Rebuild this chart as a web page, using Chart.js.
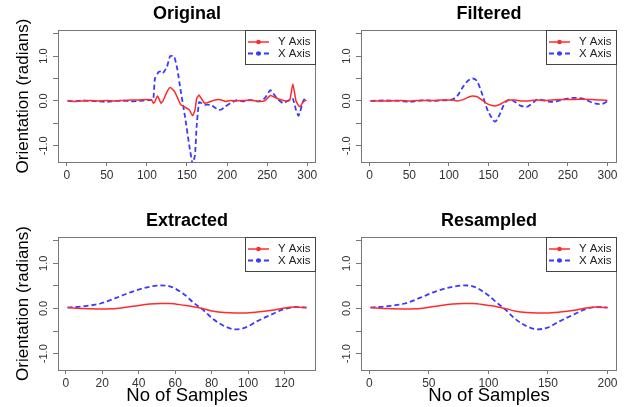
<!DOCTYPE html>
<html>
<head>
<meta charset="utf-8">
<script src="https://cdn.jsdelivr.net/npm/chart.js@4.4.0/dist/chart.umd.min.js"></script>
<style>
  body { margin: 0; background: #fff; }
  #wrap { position: relative; width: 624px; height: 407px; }
  canvas { position: absolute; }
</style>
</head>
<body>
<div id="wrap">
  <canvas id="original" width="320" height="200" style="left:0;top:0"></canvas>
  <canvas id="filtered" width="304" height="200" style="left:320px;top:0"></canvas>
  <canvas id="extracted" width="320" height="207" style="left:0;top:200px"></canvas>
  <canvas id="resampled" width="304" height="207" style="left:320px;top:200px"></canvas>
</div>
<script>
// Original
const origSamples = [1, 10, 20, 30, 40, 50, 60, 70, 80, 90, 100, 106, 108, 110, 113, 115, 117.5, 120, 125, 129, 134, 138, 142, 147.5, 153, 157, 160, 162, 165, 168, 172, 175, 181, 185, 189, 193, 198, 204, 212, 220, 229, 239, 247, 254, 262, 270, 278, 282, 286, 289, 291, 295, 299];
const origYAxis = [0.01, -0.01, 0.0, 0.01, 0.0, 0.01, 0.0, 0.01, 0.02, 0.02, 0.03, 0.02, -0.05, -0.02, 0.11, 0.05, -0.05, 0.0, 0.2, 0.3, 0.22, 0.08, -0.08, -0.14, -0.2, -0.33, -0.2, 0.05, 0.13, 0.05, -0.05, -0.04, 0.0, 0.02, 0.03, 0.02, -0.01, 0.01, 0.0, 0.01, 0.02, -0.01, 0.0, 0.12, 0.06, 0.01, 0.01, 0.38, 0.0, -0.1, -0.13, -0.02, 0.02];
const origXAxis = [0.0, -0.01, 0.01, 0.0, -0.01, -0.02, 0.0, 0.01, -0.01, 0.0, 0.02, 0.02, 0.03, 0.5, 0.6, 0.65, 0.66, 0.62, 0.76, 1.0, 0.99, 0.7, 0.24, -0.35, -1.01, -1.4, -1.2, -0.57, -0.03, -0.05, -0.09, -0.08, -0.1, -0.15, -0.2, -0.19, -0.12, -0.05, 0.02, -0.01, 0.02, -0.01, 0.06, 0.24, 0.06, -0.05, 0.03, 0.05, -0.2, -0.33, -0.25, 0.0, 0.1];

// Filtered
const filtSamples = [1, 20, 40, 50, 60, 70, 80, 90, 100, 105, 110, 118, 124, 130, 135, 141, 148, 154, 158, 164, 170, 177, 183, 191, 198, 204, 212, 221, 229, 244, 256, 269, 281, 292, 300];
const filtYAxis = [0.0, 0.0, 0.01, 0.0, 0.01, 0.01, 0.01, 0.02, 0.02, 0.02, 0.0, 0.03, 0.08, 0.11, 0.1, 0.03, -0.06, -0.1, -0.11, -0.08, -0.02, 0.02, 0.02, 0.0, 0.0, 0.01, 0.02, 0.01, 0.02, 0.03, 0.03, 0.04, 0.03, 0.02, 0.01];
const filtXAxis = [0.0, 0.01, 0.0, -0.02, 0.0, 0.02, 0.0, 0.01, 0.02, 0.04, 0.1, 0.32, 0.45, 0.5, 0.45, 0.2, -0.17, -0.38, -0.46, -0.3, -0.06, 0.03, -0.02, -0.11, -0.13, -0.07, 0.03, 0.01, -0.02, 0.03, 0.07, 0.05, -0.04, -0.07, -0.01];

// Extracted
const extSamples = [1, 10, 19, 28, 37, 46, 52, 57, 65, 70, 75, 81, 87, 93, 98, 105, 113, 120, 126, 132];
const extYAxis = [0.02, 0.0, -0.01, 0.0, 0.05, 0.1, 0.11, 0.11, 0.07, 0.04, 0.0, -0.06, -0.09, -0.1, -0.1, -0.08, -0.04, 0.01, 0.03, 0.02];
const extXAxis = [0.02, 0.05, 0.11, 0.24, 0.38, 0.48, 0.51, 0.49, 0.31, 0.13, -0.02, -0.24, -0.39, -0.46, -0.43, -0.28, -0.13, -0.01, 0.03, 0.02];

// Resampled
const resSamples = [1, 15, 30, 43, 56, 70, 79, 87, 99, 107, 114, 123, 132, 141, 149, 160, 172, 182, 191, 200];
const resYAxis = [0.02, 0.0, -0.01, 0.0, 0.05, 0.1, 0.11, 0.11, 0.07, 0.04, 0.0, -0.06, -0.09, -0.1, -0.1, -0.08, -0.04, 0.01, 0.03, 0.02];
const resXAxis = [0.02, 0.05, 0.11, 0.24, 0.38, 0.48, 0.51, 0.49, 0.31, 0.13, -0.02, -0.24, -0.39, -0.46, -0.43, -0.28, -0.13, -0.01, 0.03, 0.02];

// ticks
const yTicks = [-1.0, -0.5, 0.0, 0.5, 1.0, 1.5];
const yLabelled = [-1.0, 0.0, 1.0];
const sampleTicks300 = [0, 50, 100, 150, 200, 250, 300];
const sampleTicks120 = [0, 20, 40, 60, 80, 100, 120];
const sampleTicks200 = [0, 50, 100, 150, 200];

const seriesNames = ["Y Axis", "X Axis"];
const seriesColors = ["#ff2b2b", "#3a3aff"];

Chart.defaults.font.family = "'Liberation Sans', Arial, sans-serif";
Chart.defaults.color = "#333";

// R style box round the plot area
const plotBox = {
  id: "plotBox",
  afterDatasetsDraw(chart) {
    const { ctx, chartArea: a } = chart;
    ctx.save();
    ctx.strokeStyle = "#777";
    ctx.lineWidth = 1;
    ctx.strokeRect(Math.round(a.left) + 0.5, Math.round(a.top) + 0.5, Math.round(a.width) - 1, Math.round(a.height));
    ctx.restore();
  }
};

// legend in top right corner, line + dot like R's legend(lty, pch)
const boxLegend = {
  id: "boxLegend",
  afterDraw(chart) {
    const { ctx, chartArea: a } = chart;
    const w = 71, h = 35;
    const left = Math.round(a.right) - w, top = Math.round(a.top);
    ctx.save();
    ctx.fillStyle = "#fff";
    ctx.fillRect(left, top, w, h);
    ctx.strokeStyle = "#444";
    ctx.lineWidth = 1;
    ctx.strokeRect(left + 0.5, top + 0.5, w - 1, h - 1);
    chart.data.datasets.forEach((ds, i) => {
      const y = top + 12 + i * 11.5;
      ctx.strokeStyle = ds.borderColor;
      ctx.lineWidth = ds.borderWidth;
      ctx.setLineDash(ds.borderDash || []);
      ctx.beginPath();
      ctx.moveTo(left + 3, y);
      ctx.lineTo(left + 24, y);
      ctx.stroke();
      ctx.setLineDash([]);
      ctx.fillStyle = ds.borderColor;
      ctx.beginPath();
      ctx.arc(left + 13.5, y, 2.3, 0, Math.PI * 2);
      ctx.fill();
      ctx.fillStyle = "#222";
      ctx.font = "11.5px 'Liberation Sans', Arial, sans-serif";
      ctx.textBaseline = "middle";
      ctx.fillText(ds.label, left + 33, y);
    });
    ctx.restore();
  }
};

function makePanel(id, p) {
  const first = p.samples[0], last = p.samples[p.samples.length - 1];
  const pad = (last - first) * 0.04;
  const series = [p.yAxis, p.xAxis];
  new Chart(document.getElementById(id), {
    type: "line",
    data: {
      datasets: series.map((vals, i) => ({
        label: seriesNames[i],
        data: p.samples.map((x, j) => ({ x, y: vals[j] })),
        borderColor: seriesColors[i],
        borderWidth: i === 0 ? 1.5 : 1.8,
        borderDash: i === 0 ? [] : [5, 3],
        pointRadius: 0,
        tension: p.smooth ? 0.4 : 0.15,
        cubicInterpolationMode: p.smooth ? "monotone" : "default"
      }))
    },
    options: {
      responsive: false,
      animation: false,
      layout: { padding: { left: 0, right: p.rightPad, top: 0, bottom: 0 } },
      plugins: {
        legend: { display: false },
        tooltip: { enabled: false },
        title: {
          display: true,
          text: p.title,
          fullSize: false,
          color: "#000",
          font: { size: 18, weight: "bold" },
          padding: { top: p.titleTop, bottom: 5.4 }
        }
      },
      scales: {
        x: {
          type: "linear",
          min: first - pad,
          max: last + pad,
          afterBuildTicks: s => { s.ticks = p.xTicks.map(v => ({ value: v })); },
          afterFit: s => { s.height = p.xHeight; },
          ticks: { font: { size: 12 }, padding: 2, maxRotation: 0, autoSkip: false, callback: v => String(v) },
          grid: { drawOnChartArea: false, drawTicks: true, tickLength: 4, color: "#777" },
          border: { display: false },
          title: {
            display: !!p.xTitle,
            text: p.xTitle || "",
            color: "#000",
            font: { size: 18.5, lineHeight: 1.0 },
            padding: { top: 0, bottom: 1.8 }
          }
        },
        y: {
          min: -1.36,
          max: 1.58,
          afterBuildTicks: s => { s.ticks = yTicks.map(v => ({ value: v })); },
          afterFit: s => { s.width = p.yWidth; },
          ticks: {
            font: { size: 11 },
            padding: 0,
            minRotation: 90,
            maxRotation: 90,
            crossAlign: "center",
            autoSkip: false,
            callback: v => yLabelled.includes(v) ? v.toFixed(1) : ""
          },
          grid: { drawOnChartArea: false, drawTicks: true, tickLength: 5, color: "#777" },
          border: { display: false },
          title: {
            display: !!p.yTitle,
            text: p.yTitle || "",
            color: "#000",
            font: { size: 17 },
            padding: { top: 13, bottom: 0 }
          }
        }
      }
    },
    plugins: [plotBox, boxLegend]
  });
}

makePanel("original", {
  title: "Original", samples: origSamples, yAxis: origYAxis, xAxis: origXAxis, xTicks: sampleTicks300,
  yTitle: "Orientation (radians)", yWidth: 58, xHeight: 38, rightPad: 4, titleTop: 3, smooth: false
});
makePanel("filtered", {
  title: "Filtered", samples: filtSamples, yAxis: filtYAxis, xAxis: filtXAxis, xTicks: sampleTicks300,
  yWidth: 41, xHeight: 38, rightPad: 7, titleTop: 3, smooth: true
});
makePanel("extracted", {
  title: "Extracted", samples: extSamples, yAxis: extYAxis, xAxis: extXAxis, xTicks: sampleTicks120,
  yTitle: "Orientation (radians)", xTitle: "No of Samples", yWidth: 58, xHeight: 37, rightPad: 4, titleTop: 10, smooth: true
});
makePanel("resampled", {
  title: "Resampled", samples: resSamples, yAxis: resYAxis, xAxis: resXAxis, xTicks: sampleTicks200,
  xTitle: "No of Samples", yWidth: 41, xHeight: 37, rightPad: 7, titleTop: 10, smooth: true
});
</script>
</body>
</html>
